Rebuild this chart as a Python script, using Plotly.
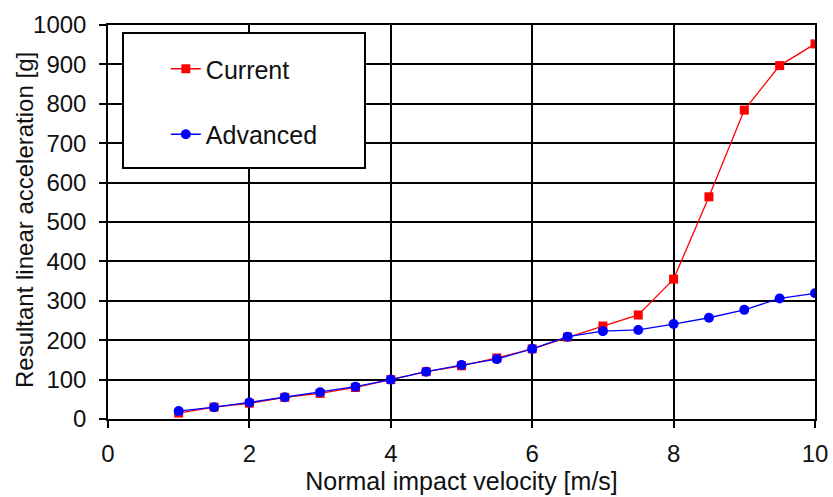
import plotly.graph_objects as go

velocity = [1, 1.5, 2, 2.5, 3, 3.5, 4, 4.5, 5, 5.5, 6, 6.5, 7, 7.5, 8, 8.5, 9, 9.5, 10]
current = [15, 30, 40, 55, 65, 80, 100, 120, 135, 155, 178, 208, 236, 264, 355, 564, 784, 897, 952]
advanced = [20, 30, 42, 55, 68, 82, 100, 120, 137, 152, 178, 209, 223, 226, 241, 257, 277, 306, 319]

x_ticks = [0, 2, 4, 6, 8, 10]
y_ticks = list(range(0, 1001, 100))

FONT = "Liberation Sans, Arial, sans-serif"
TEXT = "#111111"

fig = go.Figure()
fig.add_trace(go.Scatter(
    x=velocity, y=current, name="Current", mode="lines+markers",
    line=dict(color="#ff0000", width=1.3),
    marker=dict(symbol="square", size=9, color="#ff0000"),
    legendgroup="a",
))
fig.add_trace(go.Scatter(
    x=velocity, y=advanced, name="Advanced", mode="lines+markers",
    line=dict(color="#0000ff", width=1.3),
    marker=dict(symbol="circle", size=10, color="#0000ff"),
    legendgroup="b",
))

axis_common = dict(
    showgrid=True, gridcolor="black", gridwidth=1.5,
    showline=True, linecolor="black", linewidth=1.5, mirror=True,
    ticks="outside", ticklen=7, tickcolor="black", tickwidth=1.5,
    zeroline=False,
    tickfont=dict(family=FONT, size=24, color=TEXT),
)

fig.update_xaxes(
    range=[0, 10], tickvals=x_ticks, ticklabelstandoff=5,
    title=dict(text="Normal impact velocity [m/s]", standoff=6,
               font=dict(family=FONT, size=25, color=TEXT)),
    **axis_common,
)
fig.update_yaxes(
    range=[0, 1000], tickvals=y_ticks, ticklabelstandoff=8,
    **axis_common,
)

# y-axis title, placed as a rotated annotation
fig.add_annotation(
    text="Resultant linear acceleration [g]",
    xref="paper", yref="paper", x=-0.1188, y=0.505,
    xanchor="center", yanchor="middle", textangle=-90, showarrow=False,
    font=dict(family=FONT, size=24, color=TEXT),
)

# framed legend box drawn behind the legend entries
fig.add_shape(
    type="rect", xref="paper", yref="paper",
    x0=0.0212, x1=0.3635, y0=0.637, y1=0.9797,
    line=dict(color="black", width=2), fillcolor="white", layer="above",
)

fig.update_layout(
    width=833, height=497,
    margin=dict(l=108, r=18, t=25, b=78, autoexpand=False),
    paper_bgcolor="white", plot_bgcolor="white",
    showlegend=True,
    legend=dict(
        x=0.021, y=0.9467, xanchor="left", yanchor="top",
        bgcolor="rgba(0,0,0,0)", borderwidth=0,
        font=dict(family=FONT, size=25, color=TEXT),
        tracegroupgap=30, indentation=43, itemwidth=30,
    ),
)

fig.write_html("out.html")
